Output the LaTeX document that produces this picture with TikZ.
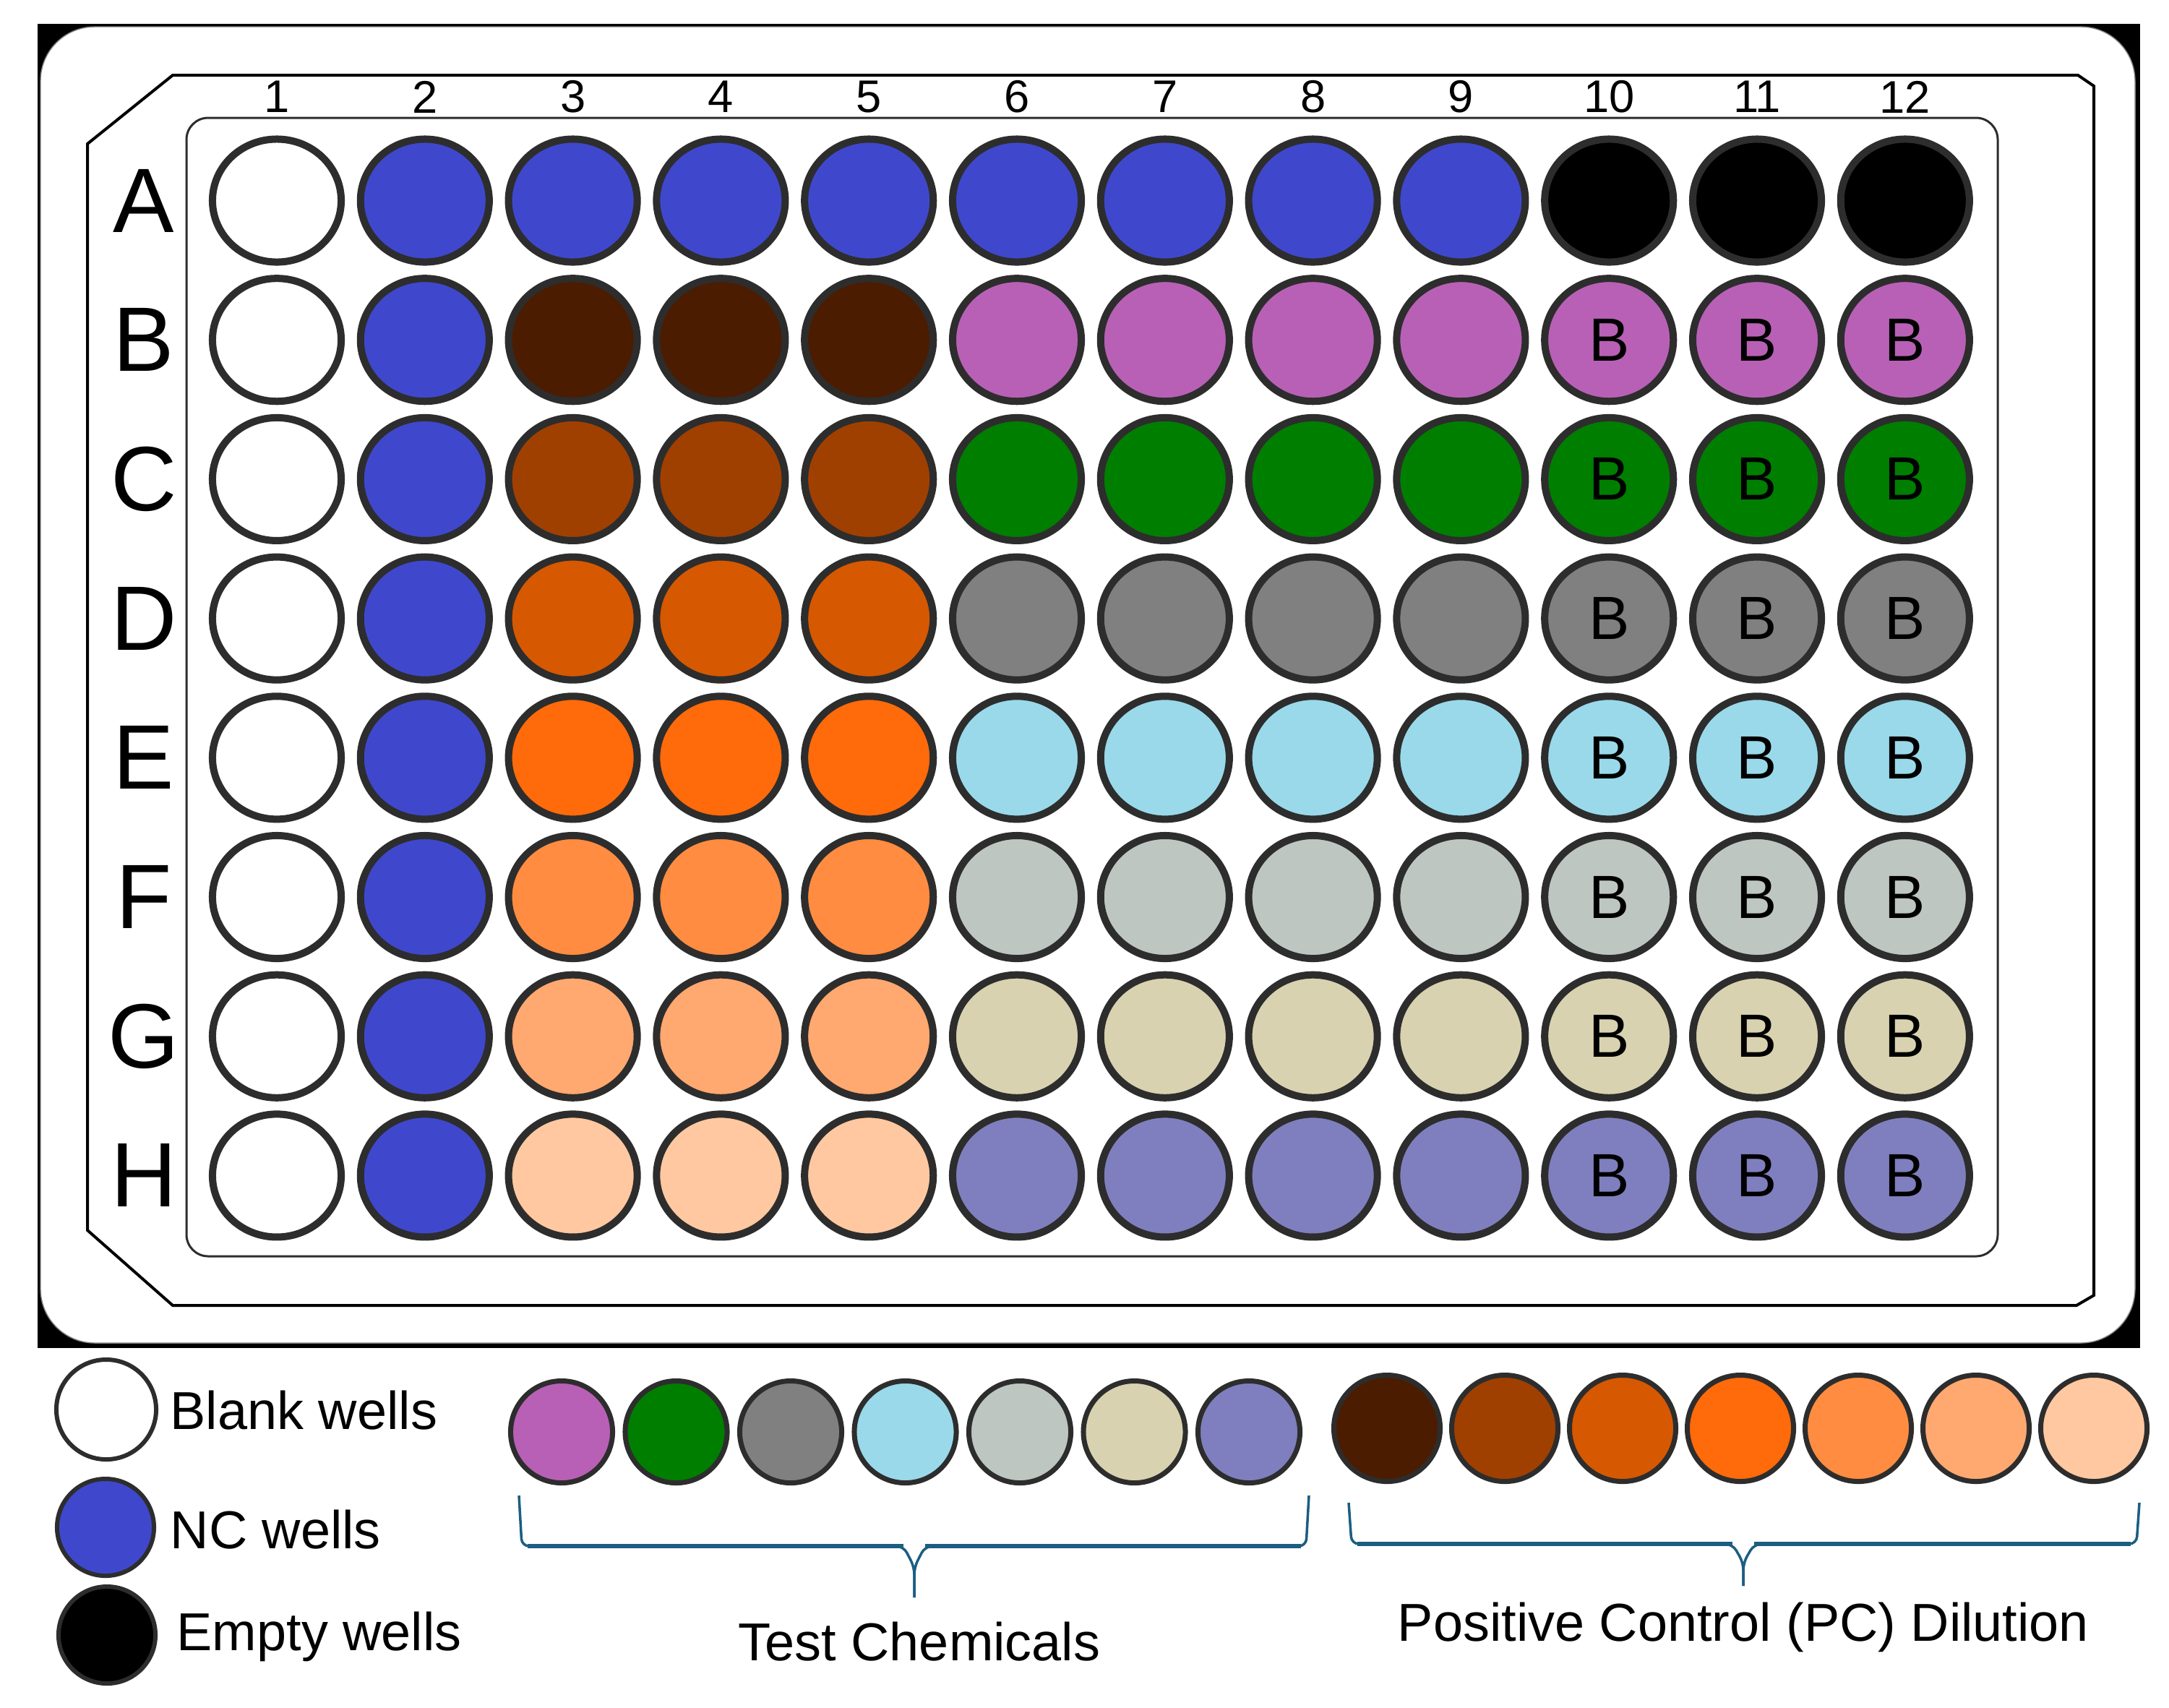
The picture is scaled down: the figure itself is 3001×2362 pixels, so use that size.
\documentclass[tikz,border=0pt]{standalone}
\usepackage{fontspec}
\setmainfont{Liberation Sans}
\usetikzlibrary{shapes.geometric}
\definecolor{wellrim}{HTML}{2D2D2D}
\definecolor{ncblue}{RGB}{63,72,204}
\definecolor{chemPurple}{RGB}{184,96,182}
\definecolor{chemGreen}{RGB}{0,126,0}
\definecolor{chemGray}{RGB}{128,128,128}
\definecolor{chemSky}{RGB}{153,217,234}
\definecolor{chemSage}{RGB}{190,198,193}
\definecolor{chemSand}{RGB}{216,210,176}
\definecolor{chemLavender}{RGB}{127,127,191}
\definecolor{pc1}{RGB}{75,28,0}
\definecolor{pc2}{RGB}{160,64,0}
\definecolor{pc3}{RGB}{214,88,0}
\definecolor{pc4}{RGB}{255,106,10}
\definecolor{pc5}{RGB}{255,140,64}
\definecolor{pc6}{RGB}{255,168,112}
\definecolor{pc7}{RGB}{255,200,160}
\definecolor{bracecol}{RGB}{27,94,130}
\tikzset{
  well/.style={ellipse,draw=wellrim,line width=0.1cm,minimum width=1.78cm,
    minimum height=1.70cm,inner sep=0pt,font=\fontsize{24}{28}\selectfont},
  keywell/.style={circle,draw=wellrim,line width=0.06cm,minimum size=1.34cm,inner sep=0pt},
  legwell/.style={circle,draw=wellrim,line width=0.07cm,minimum size=1.41cm,inner sep=0pt},
  collabel/.style={font=\fontsize{18}{20}\selectfont,inner sep=0pt},
  rowlabel/.style={font=\fontsize{36}{40}\selectfont,inner sep=0pt},
  keytext/.style={font=\fontsize{21}{24}\selectfont,inner sep=0pt},
  bracket/.style={draw=bracecol,line width=0.035cm,rounded corners=0.1cm},
  bracebar/.style={draw=bracecol,line width=0.06cm},
  plateline/.style={draw=black,line width=0.04cm}
}

\begin{document}
\begin{tikzpicture}[x=0.01cm,y=-0.01cm]
  \useasboundingbox (0,0) rectangle (3001,2362);
  % plate body
  \fill[black] (52,33) rectangle (2961,1865);
  \draw[gray,fill=white,rounded corners=0.75cm,line width=0.4pt] (56,37) rectangle (2954,1858);
  \draw[plateline] (239,104) -- (2875,104) -- (2897,119) -- (2897,1792) -- (2873,1806)
    -- (239,1806) -- (121,1702) -- (121,199) -- cycle;
  \draw[draw=wellrim,line width=0.03cm,rounded corners=0.3cm] (258,163) rectangle (2764,1738);

  % column numbers and row letters
  \foreach \c in {1,...,12}
    \node[collabel] (col-\c) at ({383+204.8*(\c-1)},134) {\c};
  \foreach \r [count=\i from 0] in {A,...,H}
    \node[rowlabel] (row-\r) at (199,{277.5+192.7*\i}) {\r};

  % blank and NC columns
  \foreach \r in {A,...,H} {
    \node[well,fill=white] (w-\r-1) at (col-1 |- row-\r) {};
    \node[well,fill=ncblue] (w-\r-2) at (col-2 |- row-\r) {};
  }
  % row A
  \foreach \c in {3,...,9}
    \node[well,fill=ncblue] (w-A-\c) at (col-\c |- row-A) {};
  \foreach \c in {10,11,12}
    \node[well,fill=black] (w-A-\c) at (col-\c |- row-A) {};
  % rows B to H
  \foreach \r/\pc/\tc in {B/pc1/chemPurple,C/pc2/chemGreen,D/pc3/chemGray,E/pc4/chemSky,
      F/pc5/chemSage,G/pc6/chemSand,H/pc7/chemLavender} {
    \foreach \c in {3,4,5}
      \node[well,fill=\pc] (w-\r-\c) at (col-\c |- row-\r) {};
    \foreach \c in {6,...,9}
      \node[well,fill=\tc] (w-\r-\c) at (col-\c |- row-\r) {};
    \foreach \c in {10,11,12}
      \node[well,fill=\tc] (w-\r-\c) at (col-\c |- row-\r) {B};
  }

  % key
  \node[keywell,fill=white,minimum size=1.38cm] (key-blank) at (147,1950) {};
  \node[keywell,fill=ncblue] (key-nc) at (146,2113) {};
  \node[keywell,fill=black] (key-empty) at (148,2262) {};
  \node[keytext,anchor=base west] (key-blank-text) at (235,1977) {Blank wells};
  \node[keytext,anchor=base west] (key-nc-text) at (235,2142) {NC wells};
  \node[keytext,anchor=base west] (key-empty-text) at (244,2283) {Empty wells};

  \foreach \tc [count=\i from 0] in {chemPurple,chemGreen,chemGray,chemSky,chemSage,chemSand,chemLavender}
    \node[legwell,fill=\tc] (tc-\i) at ({777+158.5*\i},1981) {};
  \foreach \pc [count=\i from 0] in {pc1,pc2,pc3,pc4,pc5,pc6,pc7}
    \node[legwell,fill=\pc,minimum size=1.47cm] (pc-\i) at ({1919+163*\i},1976) {};

  % braces
  \coordinate (tc-brace-l) at (718,2069);
  \coordinate (tc-brace-r) at (1811,2069);
  \coordinate (tc-brace-tip) at (1265,2210);
  \draw[bracket] (tc-brace-l) -- (722,2139) -- (1250,2139) -- (1265,2168) -- (tc-brace-tip);
  \draw[bracket] (tc-brace-r) -- (1807,2139) -- (1280,2139) -- (1265,2168) -- (tc-brace-tip);
  \draw[bracebar] (730,2139) -- (1250,2139) (1280,2139) -- (1800,2139);
  \coordinate (pc-brace-l) at (1866,2079);
  \coordinate (pc-brace-r) at (2960,2079);
  \coordinate (pc-brace-tip) at (2412,2194);
  \draw[bracket] (pc-brace-l) -- (1870,2136) -- (2397,2136) -- (2412,2162) -- (pc-brace-tip);
  \draw[bracket] (pc-brace-r) -- (2956,2136) -- (2427,2136) -- (2412,2162) -- (pc-brace-tip);
  \draw[bracebar] (1878,2136) -- (2397,2136) (2427,2136) -- (2948,2136);

  \node[keytext,anchor=base] (tc-label) at (1272,2297) {Test Chemicals};
  \node[keytext,anchor=base] (pc-label) at (2412,2270) {Positive Control (PC) Dilution};
\end{tikzpicture}
\end{document}
